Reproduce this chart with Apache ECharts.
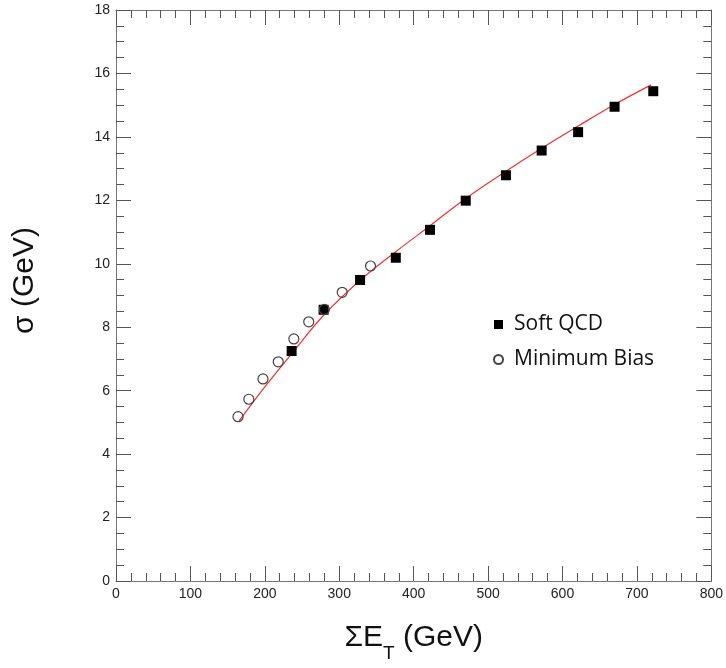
<!DOCTYPE html>
<html>
<head>
<meta charset="utf-8">
<script src="https://cdn.jsdelivr.net/npm/echarts@6/dist/echarts.min.js"></script>
<style>html,body{margin:0;padding:0;background:#fff}#c{width:726px;height:668px}</style>
</head>
<body>
<div id="c"></div>
<script>
// Soft QCD (filled squares)
var softX = [236, 279, 328, 376, 422, 470, 524, 572, 621, 670, 722];
var softY = [7.25, 8.55, 9.49, 10.19, 11.07, 11.99, 12.79, 13.57, 14.15, 14.95, 15.44];
// Minimum Bias (open circles)
var mbX = [164, 178.5, 197.5, 218, 239, 259, 280, 304, 342];
var mbY = [5.18, 5.73, 6.37, 6.91, 7.63, 8.17, 8.56, 9.10, 9.93];
// Fit curve
var fitX = [165.5, 200, 240, 280, 330, 376, 422, 470, 523, 572, 621, 670, 719];
var fitY = [5.05, 6.12, 7.28, 8.40, 9.52, 10.38, 11.20, 12.06, 12.90, 13.64, 14.34, 15.02, 15.64];
var xTicks = [0, 100, 200, 300, 400, 500, 600, 700, 800];
var yTicks = [0, 2, 4, 6, 8, 10, 12, 14, 16, 18];

function zip(a, b) { return a.map(function (v, i) { return [v, b[i]]; }); }

var axisCol = '#777';
var tickCol = '#555';
var labelFont = 'Liberation Sans, Arial, sans-serif';

function xAx(pos, show) {
  return {
    type: 'value', position: pos, min: xTicks[0], max: xTicks[xTicks.length - 1], interval: 100,
    axisLine: { show: true, onZero: false, lineStyle: { color: axisCol, width: 1 } },
    axisTick: { show: true, inside: true, length: 15, lineStyle: { color: tickCol } },
    minorTick: { show: true, splitNumber: 5, length: 8, lineStyle: { color: tickCol } },
    splitLine: { show: false },
    axisLabel: { show: show, fontFamily: labelFont, fontSize: 14, color: '#222', margin: 6 },
    name: show ? '{a|ΣE}{s|T}{a| (GeV)}' : '',
    nameLocation: 'middle', nameGap: 42,
    nameTextStyle: {
      rich: {
        a: { fontFamily: labelFont, fontSize: 30, color: '#111' },
        s: { fontFamily: labelFont, fontSize: 19, color: '#111', verticalAlign: 'bottom', padding: [0, 0, -10, 0] }
      }
    }
  };
}
function yAx(pos, show) {
  return {
    type: 'value', position: pos, min: yTicks[0], max: yTicks[yTicks.length - 1], interval: 2,
    axisLine: { show: true, onZero: false, lineStyle: { color: axisCol, width: 1 } },
    axisTick: { show: true, inside: true, length: 15, lineStyle: { color: tickCol } },
    minorTick: { show: true, splitNumber: 4, length: 8, lineStyle: { color: tickCol } },
    splitLine: { show: false },
    axisLabel: { show: show, fontFamily: labelFont, fontSize: 14, color: '#222', margin: 6 },
    name: show ? 'σ (GeV)' : '',
    nameLocation: 'middle', nameGap: 76, nameRotate: 90,
    nameTextStyle: { fontFamily: labelFont, fontSize: 30, color: '#111', padding: [0, 0, 0, 30] }
  };
}

var chart = echarts.init(document.getElementById('c'), null, { renderer: 'canvas' });
chart.setOption({
  backgroundColor: '#fff',
  animation: false,
  grid: { left: 116, right: 14, top: 10, bottom: 87 },
  xAxis: [xAx('bottom', true), xAx('top', false)],
  yAxis: [yAx('left', true), yAx('right', false)],
  legend: {
    orient: 'vertical', left: 488, top: 309, itemWidth: 9, itemHeight: 9, itemGap: 14,
    data: ['Soft QCD', 'Minimum Bias'],
    textStyle: { fontFamily: 'Open Sans, Noto Sans, sans-serif', fontSize: 21, color: '#111', padding: [0, 0, 0, 6] }
  },
  series: [
    {
      name: 'fit', type: 'line', data: zip(fitX, fitY), smooth: 0.4, symbol: 'none',
      lineStyle: { color: '#f03030', width: 1.2 }, z: 1
    },
    {
      name: 'Minimum Bias', type: 'scatter', data: zip(mbX, mbY), symbol: 'circle', symbolSize: 10,
      itemStyle: { color: 'rgba(255,255,255,0)', borderColor: '#444', borderWidth: 1.2, opacity: 1 }, z: 3
    },
    {
      name: 'Soft QCD', type: 'scatter', data: zip(softX, softY), symbol: 'rect', symbolSize: 10,
      itemStyle: { color: '#000', borderWidth: 0, opacity: 1 }, z: 2
    }
  ]
});
</script>
</body>
</html>
